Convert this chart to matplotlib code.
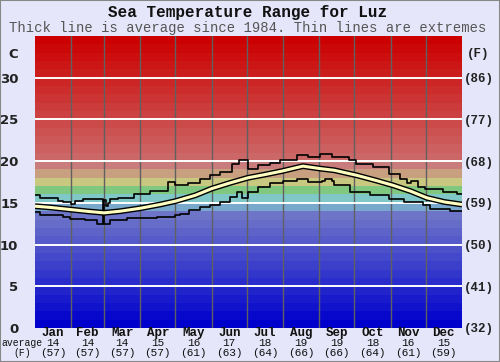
import numpy as np
import matplotlib
matplotlib.use('Agg')
import matplotlib.pyplot as plt
import matplotlib.transforms as mtransforms
from matplotlib.patches import Rectangle

mono = 'Liberation Mono'

months = ['Jan', 'Feb', 'Mar', 'Apr', 'May', 'Jun',
          'Jul', 'Aug', 'Sep', 'Oct', 'Nov', 'Dec']
month_days = [31, 28, 31, 30, 31, 30, 31, 31, 30, 31, 30, 31]
avg_c = [14, 14, 14, 15, 16, 17, 18, 19, 19, 18, 16, 15]
avg_f = [57, 57, 57, 57, 61, 63, 64, 66, 66, 64, 61, 59]

c_ticks = [0, 5, 10, 15, 20, 25, 30]
f_labels = ['(32)', '(41)', '(50)', '(59)', '(68)', '(77)', '(86)']

# average since 1984 (day of year, deg C)
avg_day = [0, 13, 30, 47, 59, 73, 90, 107, 120, 137, 151, 167, 182, 197,
           211, 229, 244, 256, 275, 291, 306, 321, 335, 350, 365]
avg_temp = [14.6, 14.45, 14.2, 13.95, 13.8, 14.0, 14.35, 14.8, 15.2, 15.9,
            16.7, 17.4, 18.0, 18.4, 18.8, 19.4, 19.1, 18.9, 18.3, 17.7,
            17.1, 16.4, 15.6, 15.1, 14.8]

# extremes, step values starting at each day
max_day = [0, 4, 20, 24, 31, 34, 41, 58, 59, 61, 62, 64, 71, 85, 98, 114,
           120, 131, 141, 150, 158, 168, 174, 182, 191, 201, 209, 224, 233,
           244, 254, 268, 274, 289, 303, 312, 318, 321, 327, 333, 349, 361, 365]
max_temp = [15.9, 15.6, 15.2, 15.1, 14.9, 15.2, 15.4, 12.6, 15.3, 14.6,
            15.0, 15.4, 15.6, 16.1, 16.4, 17.5, 17.1, 17.4, 17.8, 18.3,
            18.7, 19.7, 20.1, 19.1, 19.5, 19.8, 20.1, 20.7, 20.5, 20.8,
            20.5, 20.1, 19.7, 19.3, 18.5, 17.9, 17.4, 17.6, 16.9, 16.6,
            16.3, 16.1, 16.1]

min_day = [0, 4, 13, 24, 30, 43, 53, 64, 79, 104, 120, 124, 132, 141, 150,
           158, 167, 173, 177, 182, 191, 201, 212, 224, 233, 245, 248, 254,
           256, 269, 286, 303, 315, 332, 338, 355, 365]
min_temp = [13.9, 13.6, 13.5, 13.3, 13.1, 13.0, 12.5, 13.0, 13.2, 13.3,
            13.5, 13.7, 14.2, 14.5, 14.8, 15.1, 15.7, 16.3, 15.6, 16.3,
            16.9, 17.4, 17.6, 17.9, 17.5, 17.6, 17.9, 17.6, 17.1, 16.3,
            15.9, 15.5, 15.1, 14.7, 14.3, 14.0, 14.0]


def band_color(t):
    mid = {14: '#78a8cc', 15: '#80c8c8', 16: '#80c880', 17: '#c8c880',
           18: '#c8a080', 19: '#c87c7c'}
    if t in mid:
        return mid[t]
    if t <= 13:
        v = int(t * 8.5)
        return '#%02x%02x%02x' % (v, v + int(t * 0.6), 0xcc - int(t * 0.3))
    v = max(0, int((34 - t) * 7.4))
    return '#%02x%02x%02x' % (0xcc, v, v)


fig = plt.figure(figsize=(5, 3.62), dpi=100)
fig.patch.set_facecolor('#e6e6fa')
fig.patches.append(Rectangle((0, 0), 1, 1, transform=fig.transFigure,
                             fill=False, edgecolor='#888888', lw=1.5))

ax = fig.add_axes([0.07, 0.094, 0.854, 0.8066])
for t in range(35):
    ax.axhspan(t, t + 1, color=band_color(t), lw=0)
ax.set_xlim(0, 365)
ax.set_ylim(0, 35)

bounds = np.cumsum([0] + month_days)
for b in bounds[1:-1]:
    ax.axvline(b, color='#606060', lw=1)
for t in c_ticks[1:]:
    ax.axhline(t, color='white', lw=1.4)

ax.plot(max_day, max_temp, drawstyle='steps-post', color='black', lw=1.2)
ax.plot(min_day, min_temp, drawstyle='steps-post', color='black', lw=1.2)
ax.plot(avg_day, avg_temp, color='black', lw=4.2, solid_capstyle='butt')
ax.plot(avg_day, avg_temp, color='#ffffc0', lw=2.2, solid_capstyle='butt')

for s in ax.spines.values():
    s.set_visible(False)
ax.set_xticks([])
ax.set_yticks(c_ticks)
ax.set_yticklabels([str(c) for c in c_ticks], fontsize=9.5, fontweight='bold',
                   color='#222222')
ax.tick_params(axis='y', length=0, pad=12)

ax2 = ax.twinx()
ax2.set_ylim(0, 35)
ax2.set_yticks(c_ticks)
ax2.set_yticklabels(f_labels, fontsize=9, fontweight='bold', family=mono,
                    color='#222222')
ax2.tick_params(axis='y', length=0, pad=1)
for s in ax2.spines.values():
    s.set_visible(False)

ax.text(-0.05, 32.8, 'C', transform=mtransforms.blended_transform_factory(
    ax.transAxes, ax.transData), ha='center', va='center', fontsize=9.5,
    fontweight='bold', color='#222222')
ax.text(1.037, 32.8, '(F)', transform=mtransforms.blended_transform_factory(
    ax.transAxes, ax.transData), ha='center', va='center', fontsize=9,
    fontweight='bold', family=mono, color='#222222')

trans = mtransforms.blended_transform_factory(ax.transData, fig.transFigure)
mids = bounds[:-1] + np.array(month_days) / 2.0
for m, c, f, x in zip(months, avg_c, avg_f, mids):
    ax.text(x, 1 - 333 / 362, m, transform=trans, ha='center', va='center',
            fontsize=9, fontweight='bold', family=mono, color='#111111')
    ax.text(x, 1 - 343.5 / 362, str(c), transform=trans, ha='center',
            va='center', fontsize=8, family=mono, color='#111111')
    ax.text(x, 1 - 353 / 362, '(%d)' % f, transform=trans, ha='center',
            va='center', fontsize=8, family=mono, color='#111111')

fig.text(22 / 500, 1 - 343.5 / 362, 'average', ha='center', va='center',
         fontsize=7, family=mono, color='#111111')
fig.text(22 / 500, 1 - 353 / 362, '(F)', ha='center', va='center',
         fontsize=7, family=mono, color='#111111')

fig.text(0.496, 1 - 13 / 362, 'Sea Temperature Range for Luz', ha='center',
         va='center', fontsize=11.5, fontweight='bold', family=mono,
         color='#111111')
fig.text(0.496, 1 - 28 / 362,
         'Thick line is average since 1984. Thin lines are extremes',
         ha='center', va='center', fontsize=10, family=mono, color='#555555')

fig.savefig('out.png', dpi=100, facecolor=fig.get_facecolor())
